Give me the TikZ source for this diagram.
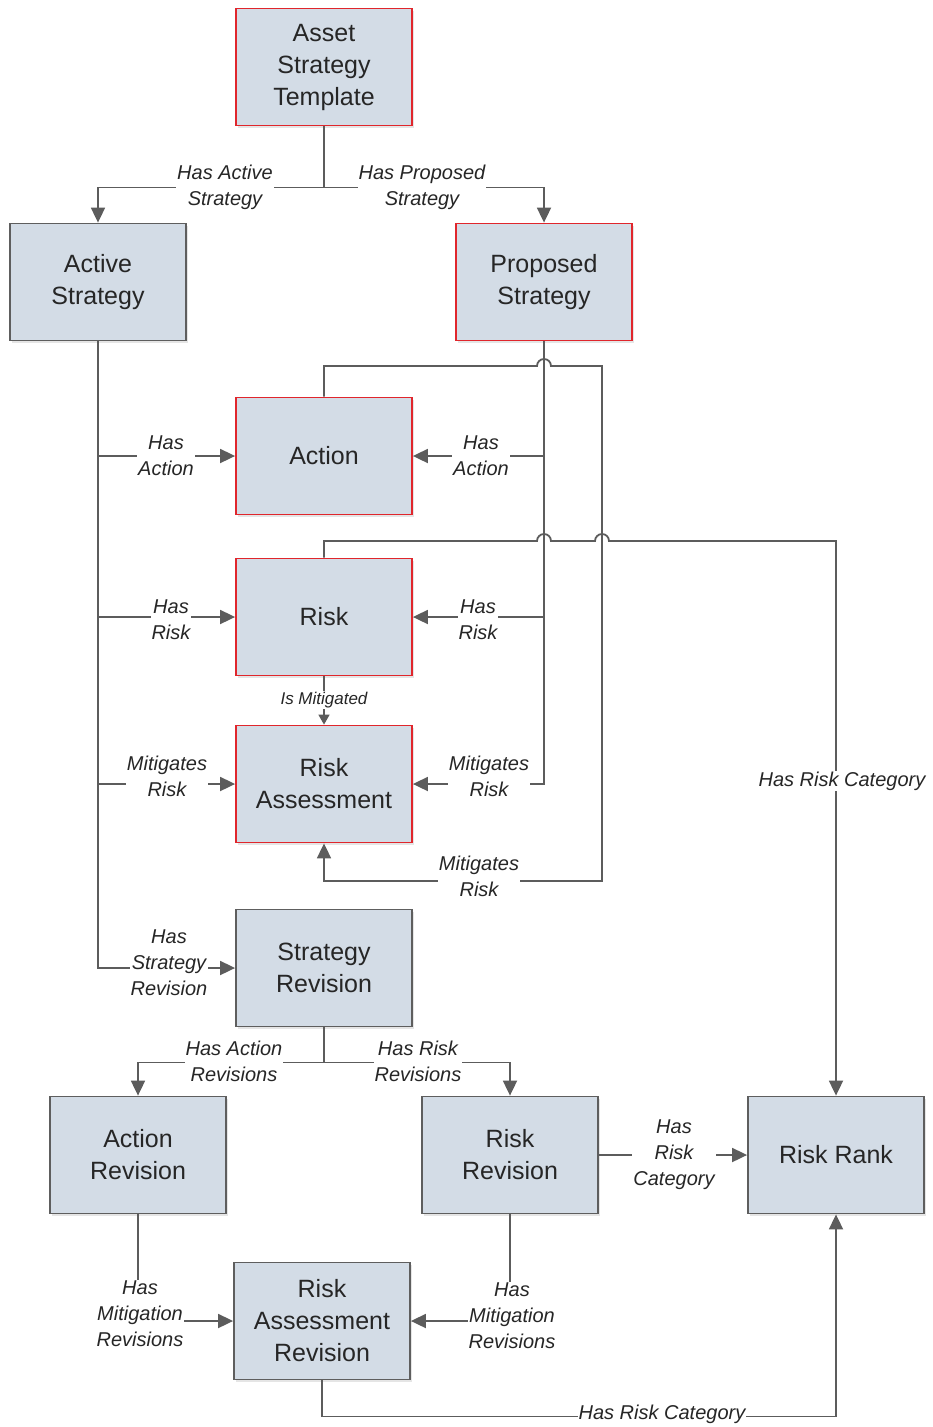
\documentclass[tikz,border=0pt]{standalone}
\usepackage{fontspec}
\setmainfont{Liberation Sans}
\usepackage{xcolor}
\usetikzlibrary{arrows.meta,positioning,calc,shadows}
\definecolor{boxfill}{HTML}{D3DCE6}
\definecolor{boxline}{HTML}{5E5E5E}
\definecolor{boxred}{HTML}{E0262C}
\definecolor{wire}{HTML}{5C5C5C}

\begin{document}
\begin{tikzpicture}[x=1pt,y=-1pt,
    every node/.style={align=center},
    entity/.style={rectangle, draw=boxline, line width=1.8pt, fill=boxfill,
      minimum width=176pt, minimum height=117pt, text=black!85,
      font=\fontsize{25}{32}\selectfont,
      drop shadow={shadow xshift=2pt, shadow yshift=-2pt, fill=black!25, opacity=0.4}},
    key/.style={entity, draw=boxred},
    conn/.style={draw=wire, line width=1.8pt},
    rel/.style={conn, -{Triangle[length=15pt,width=14pt]}},
    lbl/.style={fill=white, inner sep=1pt, text=black!85,
      font=\fontsize{20}{26}\selectfont\itshape}]

  \useasboundingbox (0,0) rectangle (932,1427);

  % entities
  \node[key] (tpl) at (324,67) {Asset\\Strategy\\Template};
  \node[entity] (act) at (98,282) {Active\\Strategy};
  \node[key] (prop) at (544,282) {Proposed\\Strategy};
  \node[key] (action) at (324,456) {Action};
  \node[key] (risk) at (324,617) {Risk};
  \node[key] (ra) at (324,784) {Risk\\Assessment};
  \node[entity] (srev) at (324,968) {Strategy\\Revision};
  \node[entity] (arev) at (138,1155) {Action\\Revision};
  \node[entity] (rrev) at (510,1155) {Risk\\Revision};
  \node[entity] (rrank) at (836,1155) {Risk Rank};
  \node[entity] (rarev) at (322,1321) {Risk\\Assessment\\Revision};

  % crossings and corners
  \coordinate (jmpA) at (544,366);
  \coordinate (jmpB) at (544,541);
  \coordinate (jmpC) at (602,541);
  \coordinate (loopB) at (602,881);

  \draw[conn] (tpl.south) -- ++(0,61) coordinate (tsplit);
  \draw[rel] (tsplit) -| (act.north);
  \draw[rel] (tsplit) -| (prop.north);

  \draw[rel] (act.south) |- (srev.west);
  \draw[rel] (act.south |- action.west) -- (action.west);
  \draw[rel] (act.south |- risk.west) -- (risk.west);
  \draw[rel] (act.south |- ra.west) -- (ra.west);

  \draw[rel] (prop.south) |- (ra.east);
  \draw[rel] (prop.south |- action.east) -- (action.east);
  \draw[rel] (prop.south |- risk.east) -- (risk.east);

  \draw[rel] (action.north) |- ([xshift=-7pt]jmpA)
    arc[start angle=180, end angle=360, radius=7] -| (loopB) -| (ra.south);
  \draw[rel] (risk.north) |- ([xshift=-7pt]jmpB)
    arc[start angle=180, end angle=360, radius=7] -- ([xshift=-7pt]jmpC)
    arc[start angle=180, end angle=360, radius=7] -| (rrank.north);
  \draw[conn, line width=1.5pt, -{Triangle[length=10pt,width=11pt]}] (risk.south) -- (ra.north);

  \draw[conn] (srev.south) -- ++(0,35) coordinate (rsplit);
  \draw[rel] (rsplit) -| (arev.north);
  \draw[rel] (rsplit) -| (rrev.north);
  \draw[rel] (rrev.east) -- (rrank.west);
  \draw[rel] (arev.south) |- (rarev.west);
  \draw[rel] (rrev.south) |- (rarev.east);
  \draw[rel] (rarev.south) -- ++(0,36) -| (rrank.south);

  % relationship labels
  \node[lbl] (lActS) at (225,187) {Has Active\\Strategy};
  \node[lbl] (lPropS) at (422,187) {Has Proposed\\Strategy};
  \node[lbl] (lActL) at (166,456) {Has\\Action};
  \node[lbl] (lActR) at (481,456) {Has\\Action};
  \node[lbl] (lRiskL) at (171,620) {Has\\Risk};
  \node[lbl] (lRiskR) at (478,620) {Has\\Risk};
  \node[lbl] (lMitL) at (167,776) {Mitigates\\Risk};
  \node[lbl] (lMitR) at (489,776) {Mitigates\\Risk};
  \node[lbl] (lMitB) at (479,876) {Mitigates\\Risk};
  \node[lbl, font=\fontsize{17}{20}\selectfont\itshape] (lIsMit) at (324,700) {Is Mitigated};
  \node[lbl] (lCatR) at (842,781) {Has Risk Category};
  \node[lbl] (lSRev) at (169,963) {Has\\Strategy\\Revision};
  \node[lbl] (lARev) at (234,1061) {Has Action\\Revisions};
  \node[lbl] (lRRev) at (418,1061) {Has Risk\\Revisions};
  \node[lbl] (lCatM) at (674,1155) {Has\\Risk\\Category};
  \node[lbl] (lMitRL) at (140,1314) {Has\\Mitigation\\Revisions};
  \node[lbl] (lMitRR) at (512,1316) {Has\\Mitigation\\Revisions};
  \node[lbl] (lCatB) at (662,1414) {Has Risk Category};
\end{tikzpicture}
\end{document}
